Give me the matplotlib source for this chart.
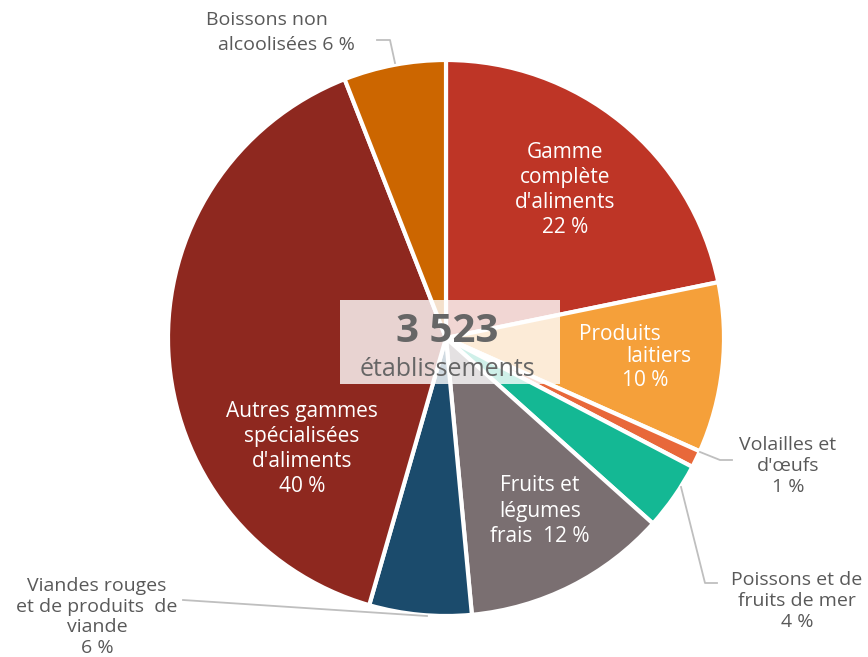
import matplotlib.pyplot as plt
from matplotlib.patches import Rectangle

plt.rcParams['font.family'] = ['Open Sans', 'DejaVu Sans']

# Répartition des établissements par type de commerce (sens horaire depuis midi)
categories = [
    "Gamme complète d'aliments",
    "Produits laitiers",
    "Volailles et d'œufs",
    "Poissons et de fruits de mer",
    "Fruits et légumes frais",
    "Viandes rouges et de produits de viande",
    "Autres gammes spécialisées d'aliments",
    "Boissons non alcoolisées",
]
parts = [22, 10, 1, 4, 12, 6, 40, 6]
colors = ["#BE3526", "#F5A03A", "#E8683A", "#14B894",
          "#7A6F71", "#1B4B6C", "#8E281F", "#CC6600"]
total = "3 523"

W, H = 868, 657
fig = plt.figure(figsize=(W / 100, H / 100), dpi=100)
ax = fig.add_axes([0, 0, 1, 1])

cx, cy, r = 446, H - 338, 278
ax.pie(parts, colors=colors, startangle=90, counterclock=False,
       center=(cx, cy), radius=r, frame=True,
       wedgeprops=dict(edgecolor='white', linewidth=3))
ax.set_xlim(0, W)
ax.set_ylim(0, H)
ax.set_aspect('equal')
ax.axis('off')

def Y(y):
    return H - y

# étiquettes à l'intérieur des secteurs
inner = dict(color='white', fontsize=15, ha='center', va='center',
             multialignment='center', linespacing=1.27)
ax.text(565, Y(190), "Gamme\ncomplète\nd'aliments\n22 %", **inner)
ax.text(620, Y(334), "Produits", **inner)
ax.text(659, Y(357), "laitiers", **inner)
ax.text(645, Y(381), "10 %", **inner)
ax.text(302, Y(449), "Autres gammes\nspécialisées\nd'aliments\n40 %", **inner)
ax.text(540, Y(511), "Fruits et\nlégumes\nfrais  12 %", **inner)

# étiquettes extérieures avec lignes de rappel
outer = dict(color='#595959', fontsize=14, ha='center', va='center',
             multialignment='center', linespacing=1.2)
lead = dict(color='#BFBFBF', linewidth=1.3)
ax.text(267, Y(20), "Boissons non", **outer)
ax.text(286, Y(45), "alcoolisées 6 %", **outer)
ax.plot([377, 390, 395], [Y(40), Y(40), Y(63)], **lead)
ax.text(788, Y(466), "Volailles et\nd'œufs\n1 %", **outer)
ax.plot([700, 720, 732], [Y(452), Y(460), Y(460)], **lead)
ax.text(797, Y(601), "Poissons et de\nfruits de mer\n4 %", **outer)
ax.plot([681, 705, 717], [Y(487), Y(583), Y(583)], **lead)
ax.text(97, Y(617), "Viandes rouges\net de produits  de\nviande\n6 %", **outer)
ax.plot([183, 427], [Y(600), Y(616)], **lead)

# encadré central
ax.add_patch(Rectangle((340, Y(384)), 220, 84, facecolor='white',
                       alpha=0.8, edgecolor='none', zorder=3))
ax.text(447, Y(331), total, color='#666666', fontsize=29, fontweight='bold',
        ha='center', va='center', zorder=4)
ax.text(447, Y(369), "établissements", color='#666666', fontsize=18,
        ha='center', va='center', zorder=4)

fig.savefig('out.png', dpi=100, facecolor='white')
